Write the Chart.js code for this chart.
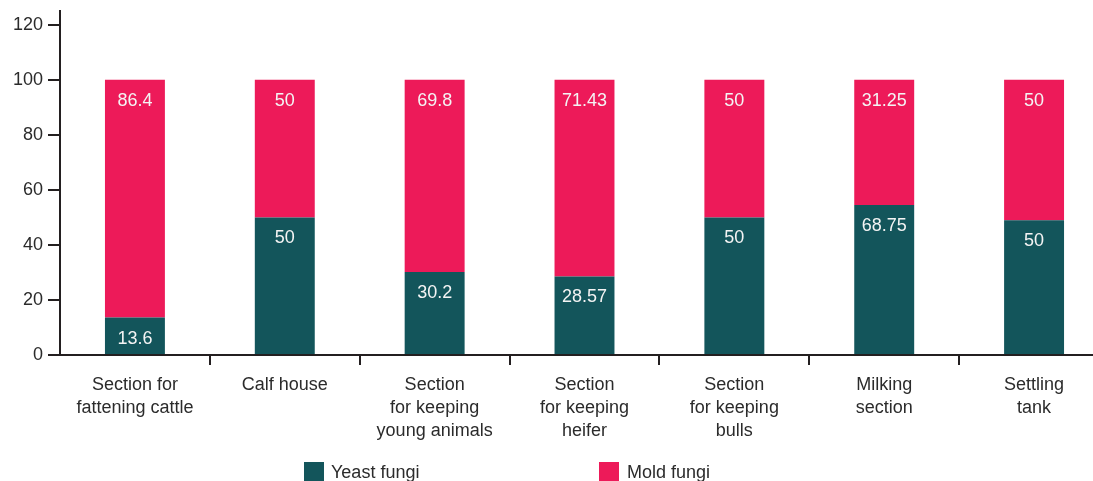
<!DOCTYPE html>
<html>
<head>
<meta charset="utf-8">
<script src="https://cdn.jsdelivr.net/npm/chart.js@4/dist/chart.umd.min.js"></script>
<style>
  html, body { margin: 0; padding: 0; background: #fff; overflow: hidden; }
  #wrap { position: relative; width: 1093px; height: 481px; overflow: hidden; }
  .key { position: absolute; top: 462px; width: 20px; height: 20px; }
  .key-text { position: absolute; top: 462px; font: 18px "Liberation Sans", Arial, sans-serif; color: #2b2b2b; }
</style>
</head>
<body>
<div id="wrap">
  <canvas id="fungi-chart" width="1109" height="481"></canvas>
  <div class="key" style="left:304px;background:#13555b"></div>
  <div class="key-text" style="left:331px">Yeast fungi</div>
  <div class="key" style="left:599px;background:#ed1a59"></div>
  <div class="key-text" style="left:627px">Mold fungi</div>
</div>
<script>
const categories = [
  ["Section for", "fattening cattle"],
  ["Calf house"],
  ["Section", "for keeping", "young animals"],
  ["Section", "for keeping", "heifer"],
  ["Section", "for keeping", "bulls"],
  ["Milking", "section"],
  ["Settling", "tank"],
];
// bar heights as drawn in the picture
const yeastValues = [13.6, 50, 30.2, 28.57, 50, 54.5, 49];
const moldValues = [86.4, 50, 69.8, 71.43, 50, 45.5, 51];
// numbers printed on the bars
const yeastLabels = ["13.6", "50", "30.2", "28.57", "50", "68.75", "50"];
const moldLabels = ["86.4", "50", "69.8", "71.43", "50", "31.25", "50"];
const yTicks = [0, 20, 40, 60, 80, 100, 120];

const axisColor = "#231f20";
const textColor = "#2b2b2b";
const font = { family: "'Liberation Sans', Arial, sans-serif", size: 18 };

// writes the value on top of each segment
const segmentLabels = {
  id: "segmentLabels",
  afterDatasetsDraw(chart) {
    const ctx = chart.ctx;
    const texts = [yeastLabels, moldLabels];
    ctx.save();
    ctx.font = "18px 'Liberation Sans', Arial, sans-serif";
    ctx.fillStyle = "#f4f4f4";
    ctx.textAlign = "center";
    ctx.textBaseline = "middle";
    chart.data.datasets.forEach((ds, i) => {
      chart.getDatasetMeta(i).data.forEach((bar, j) => {
        ctx.fillText(texts[i][j], bar.x, bar.y + 21);
      });
    });
    ctx.restore();
  },
};

new Chart(document.getElementById("fungi-chart"), {
  type: "bar",
  data: {
    labels: categories,
    datasets: [
      {
        label: "Yeast fungi",
        data: yeastValues,
        backgroundColor: "#13555b",
        categoryPercentage: 1,
        barPercentage: 0.4,
      },
      {
        label: "Mold fungi",
        data: moldValues,
        backgroundColor: "#ed1a59",
        categoryPercentage: 1,
        barPercentage: 0.4,
      },
    ],
  },
  options: {
    responsive: false,
    animation: false,
    layout: { padding: { top: 11, left: 0, right: 0, bottom: 0 } },
    plugins: {
      legend: { display: false },
      tooltip: { enabled: false },
    },
    scales: {
      x: {
        stacked: true,
        afterFit: (scale) => {
          scale.height = 126;
          scale.paddingLeft = 0;
          scale.paddingRight = 0;
        },
        border: { color: axisColor, width: 2 },
        grid: {
          offset: true,
          drawOnChartArea: false,
          tickLength: 10,
          lineWidth: 2,
          color: (c) => (c.index === 0 ? "transparent" : axisColor),
        },
        ticks: {
          color: textColor,
          padding: 9,
          maxRotation: 0,
          font: { ...font, lineHeight: 1.27 },
        },
      },
      y: {
        stacked: true,
        min: 0,
        max: 125,
        afterFit: (scale) => {
          scale.width = 60;
          scale.paddingTop = 0;
          scale.paddingBottom = 0;
        },
        afterBuildTicks: (scale) => {
          scale.ticks = yTicks.map((v) => ({ value: v }));
        },
        border: { color: axisColor, width: 2 },
        grid: {
          drawOnChartArea: false,
          tickLength: 12,
          lineWidth: 2,
          color: axisColor,
        },
        ticks: {
          color: textColor,
          padding: 5,
          font: font,
        },
      },
    },
  },
  plugins: [segmentLabels],
});
</script>
</body>
</html>
